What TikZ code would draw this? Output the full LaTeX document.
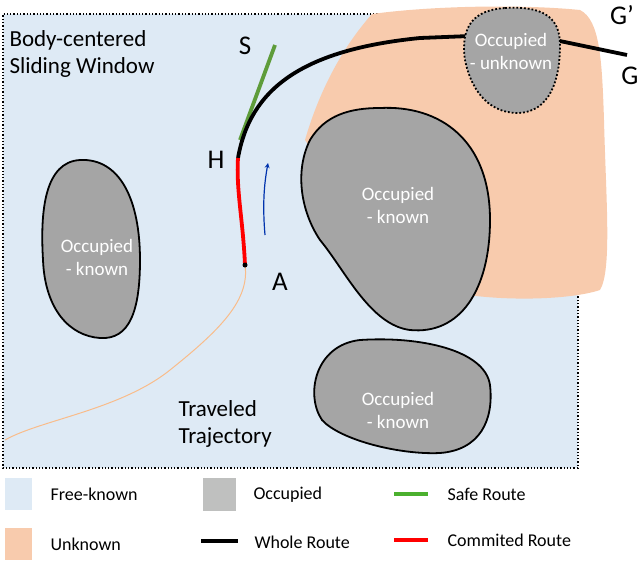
\documentclass[tikz,border=0pt]{standalone}
\usepackage{fontspec}
\setmainfont{Carlito}
\begin{document}
\begin{tikzpicture}[x=1pt,y=-1pt,
  occ/.style={fill=occgray,draw=black,line width=1.8pt},
  occtxt/.style={text=white,align=center,font=\fontsize{19}{23}\selectfont},
  lab/.style={font=\fontsize{23}{27}\selectfont,anchor=west,align=left},
  big/.style={font=\fontsize{27}{29}\selectfont},
  leg/.style={font=\fontsize{18}{20}\selectfont,anchor=west},
  route/.style={line width=3.8pt}]
\definecolor{freeb}{HTML}{DEEAF5}
\definecolor{unk}{HTML}{F8CBAD}
\definecolor{occgray}{HTML}{A5A5A5}
\definecolor{leggray}{HTML}{BFC0BF}
\definecolor{safeg}{HTML}{5E9C3A}
\useasboundingbox (0,0) rectangle (640,587);
\fill[freeb] (3,14) rectangle (578,468);
\draw[line width=1.3pt,dotted] (578,270) -- (578,468) -- (3,468) -- (3,14) -- (440,14);
\fill[unk] (372,14) .. controls (340,50) and (318,95) .. (305,140) -- (380,250) -- (450,292)
  .. controls (500,302) and (570,300) .. (600,290) .. controls (612,270) and (606,200) .. (604,120)
  .. controls (602,60) and (600,20) .. (580,10) .. controls (520,4) and (430,6) .. (372,14) -- cycle;
% occupied blobs
\path[occ] (380,108) .. controls (440,105) and (490,140) .. (490,220) .. controls (490,290) and (460,335) .. (410,330)
  .. controls (370,325) and (345,270) .. (320,240) .. controls (300,210) and (295,170) .. (310,140) .. controls (325,115) and (350,108) .. (380,108) -- cycle;
\node[occtxt] (k1) at (398,205) {Occupied\\- known};
\path[occ] (80,160) .. controls (120,158) and (140,200) .. (140,260) .. controls (140,310) and (130,340) .. (100,338)
  .. controls (70,336) and (45,310) .. (43,260) .. controls (40,210) and (45,162) .. (80,160) -- cycle;
\node[occtxt] (k2) at (97,257) {Occupied\\- known};
\path[occ] (360,340) .. controls (420,336) and (485,350) .. (490,385) .. controls (494,420) and (480,450) .. (440,453)
  .. controls (400,455) and (340,440) .. (322,420) .. controls (305,395) and (315,345) .. (360,340) -- cycle;
\node[occtxt] (k3) at (398,410) {Occupied\\- known};
% traveled trajectory
\coordinate (A0) at (245,265);
\coordinate (T1) at (5,440);
\draw[unk!80!orange,line width=1pt] (A0) .. controls (250,300) and (220,330) .. (170,370) .. controls (120,410) and (40,420) .. (T1);
% routes
\coordinate (H0) at (238,158);
\coordinate (G0) at (627,55);
\coordinate (Sx) at (275,45);
\draw[route,safeg] (240,140) -- (Sx);
\draw[route] (H0) .. controls (250,90) and (300,50) .. (420,38) -- (470,36);
\draw[route] (555,40) -- (G0);
\draw[route,red] (A0) .. controls (243,220) and (236,190) .. (H0);
\fill (A0) circle (2.5pt);
% occupied unknown
\path[fill=occgray,draw=black,line width=1.8pt,dotted] (505,8) .. controls (540,6) and (560,15) .. (560,45)
  .. controls (560,80) and (550,112) .. (518,113) .. controls (485,113) and (470,85) .. (465,60)
  .. controls (460,25) and (475,10) .. (505,8) -- cycle;
\node[occtxt] (ku) at (511,51) {Occupied\\- unknown};
% arrow
\coordinate (ar1) at (265,235);
\coordinate (ar2) at (268,163);
\draw[-stealth,blue!60!black!80!cyan,line width=1.2pt] (ar1) .. controls (262,200) and (265,180) .. (ar2);
% labels
\node[lab] (bw) at (6,54) {Body-centered\\Sliding Window};
\node[lab] (tt) at (175,424) {Traveled\\Trajectory};
\node[big] (S) at (245,46) {S};
\node[big] (H) at (216,160) {H};
\node[big] (A) at (280,282) {A};
\node[big] (Gp) at (622,15) {G’};
\node[big] (G) at (630,76) {G};
% legend
\fill[freeb] (5,478) rectangle (32,510);
\fill[unk] (5,528) rectangle (32,560);
\fill[leggray] (203,478) rectangle (236,511);
\node[leg] (l1) at (47,494) {Free-known};
\node[leg] (l2) at (47,544) {Unknown};
\node[leg] (l3) at (250,495) {Occupied};
\coordinate (w1) at (201,541); \coordinate (w2) at (238,541);
\draw[route] (w1) -- (w2);
\node[leg] (l4) at (251,542) {Whole Route};
\coordinate (s1) at (394,494); \coordinate (s2) at (428,494);
\draw[route,safeg!80!green] (s1) -- (s2);
\node[leg] (l5) at (444,494) {Safe Route};
\coordinate (r1) at (394,540); \coordinate (r2) at (428,540);
\draw[route,red] (r1) -- (r2);
\node[leg] (l6) at (444,540) {Commited Route};
\end{tikzpicture}
\end{document}
